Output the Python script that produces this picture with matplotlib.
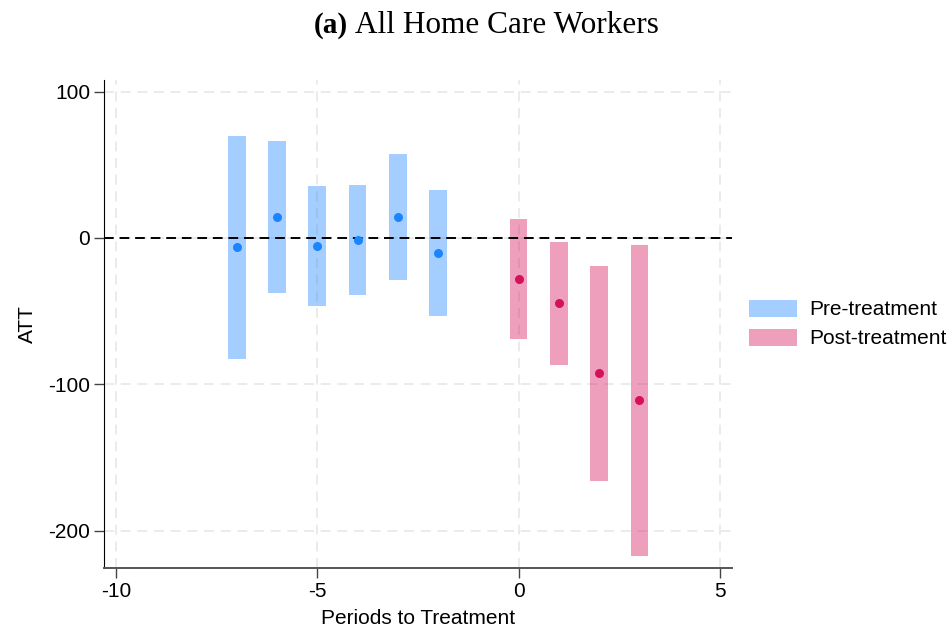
import numpy as np
import matplotlib
matplotlib.use('Agg')
import matplotlib.pyplot as plt
from matplotlib.patches import Patch

# event-study estimates with confidence bands
pre_periods = [-7, -6, -5, -4, -3, -2]
pre_att = [-6.2, 14.4, -5.5, -1.4, 14.4, -10.3]
pre_lo = [-82.7, -37.6, -46.5, -39.0, -28.7, -53.3]
pre_hi = [69.7, 66.3, 35.5, 36.2, 57.4, 32.8]

post_periods = [0, 1, 2, 3]
post_att = [-27.8, -44.6, -92.5, -110.9]
post_lo = [-69.0, -86.6, -165.9, -217.1]
post_hi = [13.3, -2.5, -19.4, -4.8]

xticks = [-10, -5, 0, 5]
yticks = [-200, -100, 0, 100]

blue = '#1A85FF'
pink = '#D41159'

plt.rcParams['font.family'] = ['Liberation Sans', 'DejaVu Sans']

fig = plt.figure(figsize=(9.49, 6.28), dpi=100)
ax = fig.add_axes([0.1096, 0.0955, 0.6617, 0.7771])

for x in xticks:
    ax.axvline(x, color='#e8e8e8', lw=1.2, ls=(0, (6, 4)), zorder=0)
for y in yticks:
    ax.axhline(y, color='#e8e8e8', lw=1.2, ls=(0, (6, 4)), zorder=0)

w = 0.44
ax.bar(pre_periods, np.array(pre_hi) - np.array(pre_lo), bottom=pre_lo, width=w,
       color=blue, alpha=0.4, zorder=2)
ax.bar(post_periods, np.array(post_hi) - np.array(post_lo), bottom=post_lo, width=w,
       color=pink, alpha=0.4, zorder=2)
ax.axhline(0, color='black', lw=1.4, ls=(0, (5, 3)), zorder=3)
ax.scatter(pre_periods, pre_att, s=42, color=blue, zorder=4, linewidths=0)
ax.scatter(post_periods, post_att, s=42, color=pink, zorder=4, linewidths=0)

ax.set_xlim(-10.3, 5.3)
ax.set_ylim(-225.6, 108)
ax.set_xticks(xticks)
ax.set_yticks(yticks)
ax.set_xticklabels([str(t) for t in xticks])
ax.set_yticklabels([str(t) for t in yticks])
ax.tick_params(labelsize=15, length=7, width=1, color='#444444', pad=3)
for s in ['top', 'right']:
    ax.spines[s].set_visible(False)
ax.spines['left'].set_color('black')
ax.spines['bottom'].set_color('#555555')
ax.spines['bottom'].set_linewidth(1.4)

ax.set_xlabel('Periods to Treatment', fontsize=15, labelpad=6)
ax.set_ylabel('ATT', fontsize=15, labelpad=8)

handles = [Patch(facecolor=blue, alpha=0.4, label='Pre-treatment'),
           Patch(facecolor=pink, alpha=0.4, label='Post-treatment')]
ax.legend(handles=handles, loc='center left', bbox_to_anchor=(1.027, 0.5),
          frameon=False, fontsize=15, borderpad=0, borderaxespad=0,
          handlelength=2.3, handleheight=0.87, handletextpad=0.6,
          labelspacing=0.45)

fig.text(0.331, 0.96, '(a)', fontsize=21, fontweight='bold',
         family='Liberation Serif', va='center', ha='left')
fig.text(0.3745, 0.96, 'All Home Care Workers', fontsize=22.5,
         family='Liberation Serif', va='center', ha='left')

fig.savefig('out.png', dpi=100)
